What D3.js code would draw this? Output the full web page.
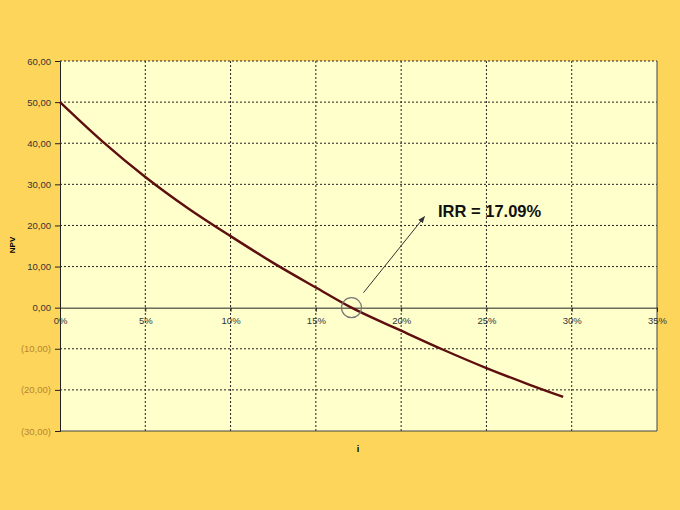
<!DOCTYPE html>
<html><head><meta charset="utf-8">
<script src="https://cdn.jsdelivr.net/npm/d3@7"></script>
<style>body{margin:0;background:#FDD55B;} svg{display:block;}</style>
</head><body>
<svg id="c" width="680" height="510"></svg>
<script>
const rates = [0, 2.5, 5, 7.5, 10, 12.5, 15, 17.09, 20, 22.5, 25, 27.5, 29.5];
const npv   = [50, 40.4, 31.8, 24.2, 17.4, 10.9, 4.9, 0, -5.6, -10.3, -14.7, -18.7, -21.7];
const yTicks = [60, 50, 40, 30, 20, 10, 0, -10, -20, -30];
const xTicks = [0, 5, 10, 15, 20, 25, 30, 35];
const irr = 17.09;
const irrLabel = "IRR = 17.09%";

const svg = d3.select("#c");
const L = 60, R = 657, T = 61, B = 431;
const x = d3.scaleLinear().domain([0, 35]).range([L, R]);
const y = d3.scaleLinear().domain([-30, 60]).range([B, T]);
const FONT = "Arial, 'Liberation Sans', sans-serif";

svg.append("rect").attr("width", 680).attr("height", 510).attr("fill", "#FDD55B");
svg.append("rect").attr("x", L).attr("y", T).attr("width", R - L).attr("height", B - T).attr("fill", "#FFFFCC");

// gridlines
svg.append("g").selectAll("line").data(yTicks.filter(d => d !== 0 && d !== -30)).join("line")
  .attr("x1", L).attr("x2", R).attr("y1", d => y(d)).attr("y2", d => y(d))
  .attr("stroke", "#222").attr("stroke-width", 1).attr("stroke-dasharray", "2,2");
svg.append("g").selectAll("line").data(xTicks.filter(d => d !== 0 && d !== 35)).join("line")
  .attr("y1", T).attr("y2", B).attr("x1", d => x(d)).attr("x2", d => x(d))
  .attr("stroke", "#222").attr("stroke-width", 1).attr("stroke-dasharray", "2,2");

// borders
svg.append("line").attr("x1", R).attr("x2", R).attr("y1", T).attr("y2", B).attr("stroke", "#444");
svg.append("line").attr("x1", L).attr("x2", R).attr("y1", B).attr("y2", B).attr("stroke", "#444");

// y axis
const yAxis = d3.axisLeft(y).tickValues(yTicks).tickSize(5).tickPadding(4)
  .tickFormat(d => {
    const s = Math.abs(d).toFixed(2).replace(".", ",");
    return d < 0 ? "(" + s + ")" : s;
  });
const gy = svg.append("g").attr("transform", `translate(${L},0)`).call(yAxis);
gy.select(".domain").attr("stroke", "#222");
gy.selectAll(".tick line").attr("stroke", "#222");
gy.selectAll("text").attr("font-family", FONT).attr("font-size", 9.5)
  .attr("fill", d => d < 0 ? "#B8862E" : "#333");

// x axis at zero
const xAxis = d3.axisBottom(x).tickValues(xTicks).tickSize(4).tickPadding(6)
  .tickFormat(d => d + "%");
const gx = svg.append("g").attr("transform", `translate(0,${y(0)})`).call(xAxis);
gx.select(".domain").attr("stroke", "#222");
gx.selectAll(".tick line").attr("stroke", "#222");
gx.selectAll("text").attr("font-family", FONT).attr("font-size", 9.5).attr("fill", "#333");

// curve
const pts = rates.map((r, i) => [r, npv[i]]);
svg.append("path").datum(pts)
  .attr("d", d3.line().x(d => x(d[0])).y(d => y(d[1])).curve(d3.curveMonotoneX))
  .attr("fill", "none").attr("stroke", "#5E0E0E").attr("stroke-width", 2.4);

// annotation
svg.append("circle").attr("cx", x(irr)).attr("cy", y(0)).attr("r", 10)
  .attr("fill", "none").attr("stroke", "#777").attr("stroke-width", 1.2);
svg.append("defs").append("marker").attr("id", "ah").attr("viewBox", "0 0 10 10")
  .attr("refX", 9).attr("refY", 5).attr("markerWidth", 7).attr("markerHeight", 7).attr("orient", "auto")
  .append("path").attr("d", "M0,1 L10,5 L0,9 Z").attr("fill", "#333");
svg.append("line").attr("x1", x(irr) + 12).attr("y1", y(0) - 15)
  .attr("x2", x(irr) + 73).attr("y2", y(0) - 91)
  .attr("stroke", "#333").attr("stroke-width", 1).attr("marker-end", "url(#ah)");
svg.append("text").attr("x", 438).attr("y", 217).text(irrLabel)
  .attr("font-family", FONT).attr("font-size", 16.5).attr("font-weight", "bold").attr("fill", "#111");

// axis titles
svg.append("text").attr("transform", "translate(15,245) rotate(-90)").attr("text-anchor", "middle")
  .text("NPV").attr("font-family", FONT).attr("font-size", 8).attr("font-weight", "bold");
svg.append("text").attr("x", 358).attr("y", 452).attr("text-anchor", "middle")
  .text("i").attr("font-family", FONT).attr("font-size", 9).attr("font-weight", "bold");
</script>
</body></html>
